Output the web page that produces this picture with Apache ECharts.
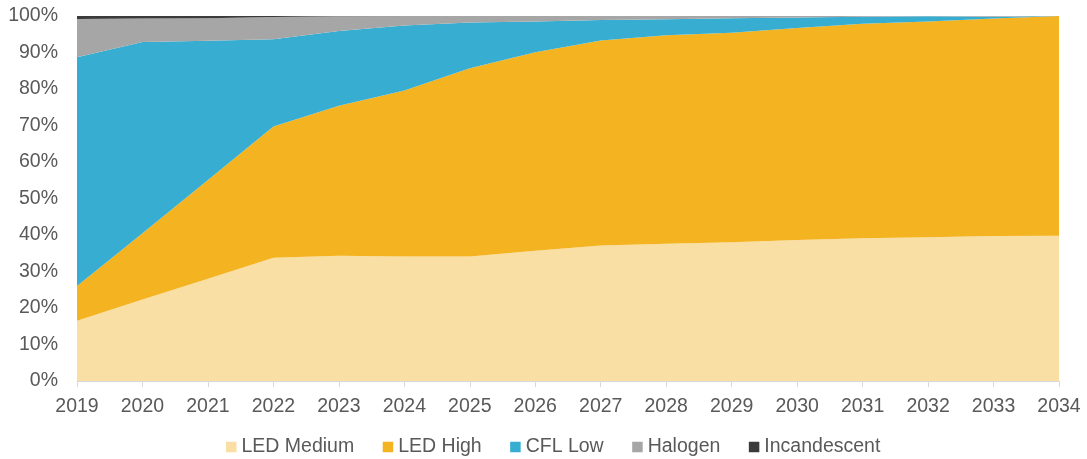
<!DOCTYPE html>
<html>
<head>
<meta charset="utf-8">
<script src="https://cdn.jsdelivr.net/npm/echarts@6/dist/echarts.min.js"></script>
<style>
  html, body { margin: 0; padding: 0; background: #fff; }
  #chart { width: 1087px; height: 459px; }
</style>
</head>
<body>
<div id="chart"></div>
<script>
// Market share by lamp technology, in percent of the year's total
const years = ['2019','2020','2021','2022','2023','2024','2025','2026','2027','2028','2029','2030','2031','2032','2033','2034'];
const ledMedium    = [16.5, 22.3, 28.0, 33.8, 34.3, 34.1, 34.1, 35.7, 37.1, 37.6, 38.0, 38.6, 39.1, 39.4, 39.7, 39.8];
const ledHigh      = [ 9.5, 18.2, 27.1, 35.9, 41.1, 45.5, 51.6, 54.4, 56.2, 57.1, 57.4, 58.1, 58.8, 59.1, 59.6, 60.2];
const cflLow       = [62.7, 52.4, 38.1, 23.9, 20.5, 17.8, 12.5,  8.4,  5.6,  4.4,  4.0,  2.9,  1.9,  1.4,  0.5,  0.0];
const halogen      = [10.5,  6.4,  6.2,  6.1,  4.0,  2.6,  1.8,  1.5,  1.1,  0.9,  0.6,  0.4,  0.2,  0.1,  0.2,  0.0];
const incandescent = [ 0.8,  0.7,  0.6,  0.3,  0.1,  0.0,  0.0,  0.0,  0.0,  0.0,  0.0,  0.0,  0.0,  0.0,  0.0,  0.0];
const yTicks = [0, 10, 20, 30, 40, 50, 60, 70, 80, 90, 100];

const seriesDefs = [
  { name: 'LED Medium',   data: ledMedium,    color: '#F9DFA4' },
  { name: 'LED High',     data: ledHigh,      color: '#F4B320' },
  { name: 'CFL Low',      data: cflLow,       color: '#37AED1' },
  { name: 'Halogen',      data: halogen,      color: '#A6A6A6' },
  { name: 'Incandescent', data: incandescent, color: '#3B3B3B' }
];

const textColor = '#595959';
const fontFamily = '"Liberation Sans", Arial, sans-serif';
const fontSize = 19.5;

const chart = echarts.init(document.getElementById('chart'), null, { renderer: 'canvas' });
chart.setOption({
  animation: false,
  backgroundColor: '#ffffff',
  grid: { left: 77, right: 28, top: 16, bottom: 78, containLabel: false },
  legend: {
    top: 432,
    left: 221,
    icon: 'rect',
    itemWidth: 10.5,
    itemHeight: 10.5,
    itemGap: 28.5,
    textStyle: { color: textColor, fontSize: fontSize, fontFamily: fontFamily },
    data: seriesDefs.map(s => s.name)
  },
  xAxis: {
    type: 'category',
    boundaryGap: false,
    data: years,
    axisLine: { show: true, lineStyle: { color: '#D9D9D9', width: 1 } },
    axisTick: { show: true, alignWithLabel: true, length: 6, lineStyle: { color: '#D9D9D9' } },
    axisLabel: { color: textColor, fontSize: fontSize, fontFamily: fontFamily, margin: 16, interval: 0 },
    splitLine: { show: false }
  },
  yAxis: {
    type: 'value',
    min: yTicks[0],
    max: yTicks[yTicks.length - 1],
    interval: 10,
    axisLine: { show: false },
    axisTick: { show: false },
    splitLine: { show: false },
    axisLabel: { color: textColor, fontSize: fontSize, fontFamily: fontFamily, margin: 19, formatter: v => v + '%' }
  },
  series: seriesDefs.map(s => ({
    name: s.name,
    type: 'line',
    stack: 'share',
    data: s.data,
    symbol: 'none',
    showSymbol: false,
    lineStyle: { width: 0 },
    itemStyle: { color: s.color },
    areaStyle: { color: s.color, opacity: 1 },
    emphasis: { disabled: true }
  }))
});
</script>
</body>
</html>
